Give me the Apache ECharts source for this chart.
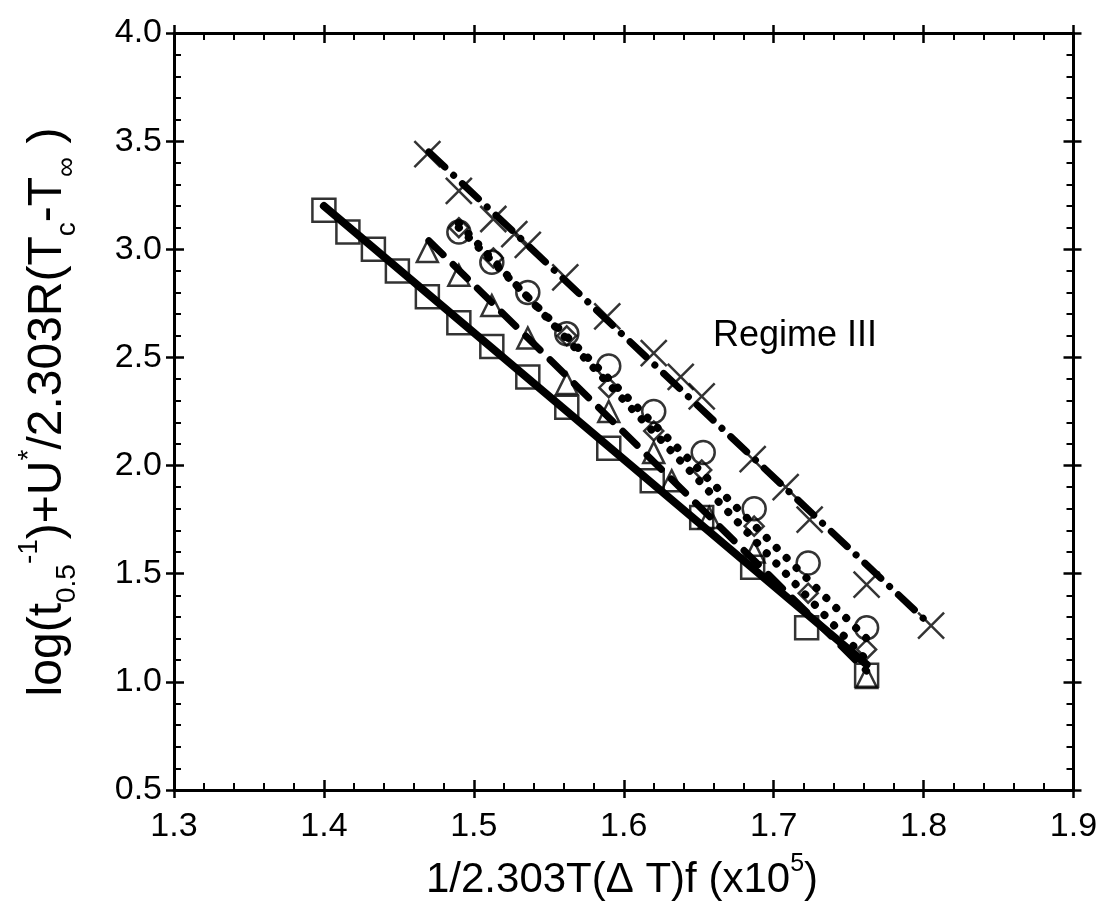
<!DOCTYPE html>
<html><head><meta charset="utf-8">
<script src="https://cdn.jsdelivr.net/npm/echarts@6/dist/echarts.min.js"></script>
<style>html,body{margin:0;padding:0;background:#fff}#c{width:1105px;height:908px}</style>
</head><body><div id="c"></div>
<script>
// ---- data ----
const squareX   = [1.400, 1.416, 1.433, 1.449, 1.469, 1.490, 1.512, 1.536, 1.562, 1.590, 1.619, 1.652, 1.686, 1.722, 1.762];
const squareY   = [3.18, 3.08, 3.00, 2.90, 2.78, 2.66, 2.55, 2.41, 2.27, 2.08, 1.93, 1.76, 1.53, 1.25, 1.03];
const triangleX = [1.469, 1.490, 1.512, 1.536, 1.562, 1.590, 1.620, 1.632, 1.657, 1.687, 1.762];
const triangleY = [2.99, 2.88, 2.74, 2.59, 2.38, 2.25, 2.06, 1.93, 1.76, 1.60, 1.02];
const circleX   = [1.490, 1.512, 1.536, 1.562, 1.590, 1.620, 1.653, 1.687, 1.723, 1.762];
const circleY   = [3.08, 2.94, 2.80, 2.61, 2.46, 2.25, 2.06, 1.80, 1.55, 1.25];
const diamondX  = [1.490, 1.513, 1.562, 1.590, 1.620, 1.652, 1.687, 1.723, 1.762];
const diamondY  = [3.10, 2.96, 2.60, 2.36, 2.16, 1.98, 1.72, 1.41, 1.15];
const crossX    = [1.469, 1.490, 1.513, 1.527, 1.536, 1.561, 1.589, 1.620, 1.638, 1.652, 1.686, 1.708, 1.724, 1.762, 1.805];
const crossY    = [3.44, 3.27, 3.14, 3.07, 3.02, 2.87, 2.69, 2.52, 2.41, 2.32, 2.03, 1.90, 1.75, 1.45, 1.26];
// fitted lines (end points)
const squareFitX   = [1.400, 1.762]; const squareFitY   = [3.20, 1.08];
const triangleFitX = [1.470, 1.762]; const triangleFitY = [3.04, 1.05];
const circleFitX   = [1.490, 1.762]; const circleFitY   = [3.10, 1.20];
const diamondFitX  = [1.490, 1.762]; const diamondFitY  = [3.12, 1.10];
const crossFitX    = [1.470, 1.805]; const crossFitY    = [3.45, 1.26];
const xTicks = [1.3, 1.4, 1.5, 1.6, 1.7, 1.8, 1.9];
const yTicks = [0.5, 1.0, 1.5, 2.0, 2.5, 3.0, 3.5, 4.0];
const annotation = 'Regime III';

const zip = (a, b) => a.map((v, i) => [v, b[i]]);
const FONT = 'Liberation Sans, Arial, Helvetica, sans-serif';

function xAx(pos, inside, showLabel) {
  return {
    type: 'value', position: pos, min: xTicks[0], max: xTicks[xTicks.length - 1], interval: 0.1,
    axisLine: { show: showLabel !== null, onZero: false, lineStyle: { color: '#000', width: 3 } },
    axisTick: { inside: inside, length: inside ? 10 : 8, lineStyle: { color: '#000', width: 2.5 } },
    minorTick: { show: inside, splitNumber: 5, length: 7, lineStyle: { color: '#000', width: 2 } },
    splitLine: { show: false },
    axisLabel: { show: !!showLabel, margin: 20, color: '#000', fontSize: 34, fontFamily: FONT,
      formatter: v => v.toFixed(1) }
  };
}
function yAx(pos, inside, showLabel) {
  return {
    type: 'value', position: pos, min: yTicks[0], max: yTicks[yTicks.length - 1], interval: 0.5,
    axisLine: { show: showLabel !== null, onZero: false, lineStyle: { color: '#000', width: 3 } },
    axisTick: { inside: inside, length: inside ? 10 : 8, lineStyle: { color: '#000', width: 2.5 } },
    minorTick: { show: inside, splitNumber: 5, length: 7, lineStyle: { color: '#000', width: 2 } },
    splitLine: { show: false },
    axisLabel: { show: !!showLabel, margin: 12, color: '#000', fontSize: 34, fontFamily: FONT,
      formatter: v => v.toFixed(1) }
  };
}

const markerStyle = { color: 'rgba(0,0,0,0)', borderColor: '#000', borderWidth: 2.5 };
function scatter(name, data, symbol, size) {
  return { type: 'scatter', name, data, symbol, symbolSize: size, itemStyle: markerStyle, z: 3, silent: true };
}
function fit(name, data, width, type) {
  return { type: 'line', name, data, symbol: 'none', z: 4, silent: true,
    lineStyle: { color: '#000', width, type, cap: 'round' } };
}

const chart = echarts.init(document.getElementById('c'), null, { renderer: 'canvas' });
chart.setOption({
  animation: false,
  backgroundColor: '#fff',
  grid: { left: 174, right: 31.5, top: 33, bottom: 118 },
  xAxis: [xAx('bottom', true, true), xAx('bottom', false, null), xAx('top', true, false), xAx('top', false, null)],
  yAxis: [yAx('left', true, true), yAx('left', false, null), yAx('right', true, false), yAx('right', false, null)],
  series: [
    scatter('squares', zip(squareX, squareY), 'rect', 23),
    scatter('triangles', zip(triangleX, triangleY), 'triangle', 21),
    scatter('circles', zip(circleX, circleY), 'circle', 23),
    scatter('diamonds', zip(diamondX, diamondY), 'diamond', 19),
    scatter('crosses', zip(crossX, crossY), 'path://M0,0L10,10M10,0L0,10', 26),
    fit('squareFit', zip(squareFitX, squareFitY), 8, 'solid'),
    fit('triangleFit', zip(triangleFitX, triangleFitY), 7, [20, 14]),
    fit('circleFit', zip(circleFitX, circleFitY), 8, [0.1, 14]),
    fit('diamondFit', zip(diamondFitX, diamondFitY), 8, [0.1, 14]),
    fit('crossFit', zip(crossFitX, crossFitY), 7, [22, 12, 0.1, 12])
  ],
  graphic: [
    { type: 'text', x: 48, y: 412, rotation: Math.PI / 2, silent: true,
      style: {
        text: '{n|log(t}{sub|0.5}{sup|-1}{n|)+U}{sup|*}{n|/2.303R(T}{sub|c}{n|-T}{sub|∞}{n| )}',
        align: 'center', verticalAlign: 'middle', fill: '#000',
        rich: {
          n: { fontSize: 48, fontFamily: FONT, fill: '#000', lineHeight: 66, verticalAlign: 'middle' },
          sub: { fontSize: 28, fontFamily: FONT, fill: '#000', lineHeight: 28, verticalAlign: 'bottom' },
          sup: { fontSize: 28, fontFamily: FONT, fill: '#000', lineHeight: 28, verticalAlign: 'top' }
        }
      } },
    { type: 'text', x: 622, y: 880, silent: true,
      style: {
        text: '{n|1/2.303T(Δ T)f (x10}{sup|5}{n|)}',
        align: 'center', verticalAlign: 'middle', fill: '#000',
        rich: {
          n: { fontSize: 42, fontFamily: FONT, fill: '#000', lineHeight: 56, verticalAlign: 'middle' },
          sup: { fontSize: 25, fontFamily: FONT, fill: '#000', lineHeight: 25, verticalAlign: 'top' }
        }
      } },
    { type: 'text', x: 713, y: 336, silent: true,
      style: { text: annotation, fontSize: 36, fontFamily: FONT, fill: '#000', align: 'left', verticalAlign: 'middle' } }
  ]
});
</script></body></html>
